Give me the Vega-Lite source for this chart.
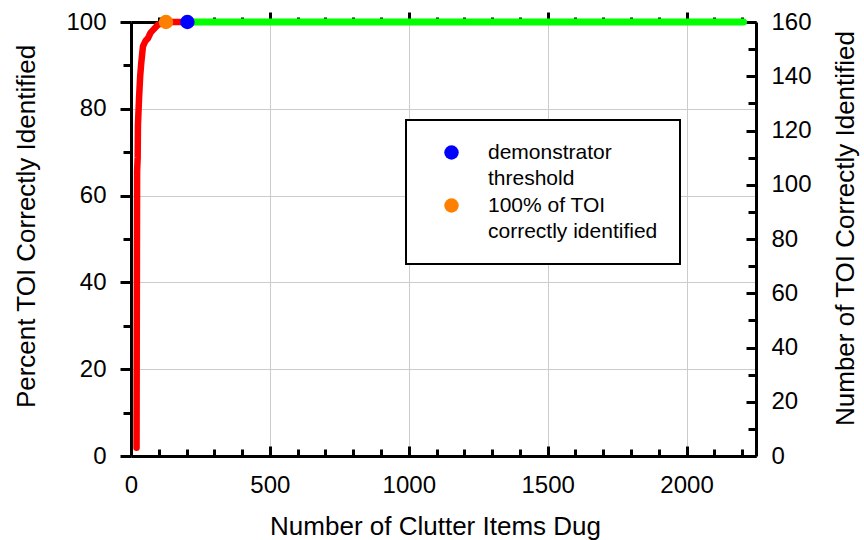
{
  "$schema": "https://vega.github.io/schema/vega-lite/v6.json",
  "autosize": {"type": "none"},
  "width": 625,
  "height": 434,
  "padding": {"left": 131, "top": 22, "right": 108, "bottom": 84},
  "background": "white",
  "datasets": {
    "dig": [
      {"clutter": 20, "toi": 3},
      {"clutter": 21, "toi": 60},
      {"clutter": 22, "toi": 105},
      {"clutter": 24, "toi": 110},
      {"clutter": 25, "toi": 122},
      {"clutter": 29, "toi": 132},
      {"clutter": 33, "toi": 140},
      {"clutter": 37, "toi": 145},
      {"clutter": 43, "toi": 151},
      {"clutter": 52, "toi": 153},
      {"clutter": 61, "toi": 154},
      {"clutter": 70, "toi": 156},
      {"clutter": 79, "toi": 157},
      {"clutter": 97, "toi": 159},
      {"clutter": 126, "toi": 160},
      {"clutter": 203, "toi": 160}
    ],
    "after": [
      {"clutter": 203, "pct": 100},
      {"clutter": 2205, "pct": 100}
    ],
    "markers": [
      {"clutter": 126, "pct": 100, "marker": "100% of TOI correctly identified"},
      {"clutter": 203, "pct": 100, "marker": "demonstrator threshold"}
    ]
  },
  "config": {
    "view": {"stroke": null},
    "font": "Liberation Sans",
    "axis": {
      "labelFont": "Liberation Sans",
      "titleFont": "Liberation Sans",
      "labelFontSize": 24,
      "titleFontSize": 26,
      "titleFontWeight": "normal",
      "labelColor": "black",
      "titleColor": "black",
      "domainColor": "black",
      "domainWidth": 3,
      "tickColor": "black",
      "tickWidth": 3,
      "gridColor": "#cccccc",
      "gridWidth": 1,
      "labelFlush": false,
      "labelOverlap": false,
      "format": "d"
    },
    "legend": {
      "labelFont": "Liberation Sans",
      "labelFontSize": 21,
      "labelColor": "black",
      "strokeWidth": 2
    },
    "style": {"guide-label": {"lineHeight": 26}}
  },
  "resolve": {
    "scale": {"y": "independent"},
    "axis": {"x": "independent", "y": "independent"}
  },
  "layer": [
    {
      "data": {"name": "after"},
      "mark": {"type": "line", "color": "#00ff00", "strokeWidth": 7, "strokeCap": "round"},
      "encoding": {
        "x": {
          "field": "clutter", "type": "quantitative",
          "scale": {"domain": [0, 2250], "nice": false, "zero": false},
          "axis": {
            "orient": "bottom", "values": [0, 500, 1000, 1500, 2000],
            "tickSize": -10, "labelPadding": 27, "grid": true,
            "title": "Number of Clutter Items Dug", "titlePadding": 16,
            "titleX": 304
          }
        },
        "y": {
          "field": "pct", "type": "quantitative",
          "scale": {"domain": [0, 100], "nice": false, "zero": false},
          "axis": {
            "orient": "left", "values": [0, 20, 40, 60, 80, 100],
            "tickSize": 11, "labelPadding": 14, "grid": true,
            "title": "Percent TOI Correctly Identified", "titlePadding": 26,
            "titleY": 204
          }
        }
      }
    },
    {
      "data": {"name": "dig"},
      "mark": {"type": "line", "color": "#ff0000", "strokeWidth": 6.5, "strokeCap": "round", "strokeJoin": "round"},
      "encoding": {
        "x": {
          "field": "clutter", "type": "quantitative",
          "scale": {"domain": [0, 2250], "nice": false, "zero": false},
          "axis": {
            "orient": "bottom",
            "values": [100, 200, 300, 400, 600, 700, 800, 900, 1100, 1200, 1300, 1400, 1600, 1700, 1800, 1900, 2100, 2200],
            "tickSize": -7, "labels": false, "domain": false, "grid": false, "title": null
          }
        },
        "y": {
          "field": "toi", "type": "quantitative",
          "scale": {"domain": [0, 160], "nice": false, "zero": false},
          "axis": {
            "orient": "right", "values": [0, 20, 40, 60, 80, 100, 120, 140, 160],
            "tickSize": -10, "labelPadding": 25, "grid": false,
            "title": "Number of TOI Correctly Identified", "titleAngle": 270,
            "titleBaseline": "top", "titlePadding": 21,
            "titleY": 206
          }
        }
      }
    },
    {
      "data": {"name": "markers"},
      "mark": {"type": "point", "filled": true, "size": 210, "opacity": 1, "shape": "circle"},
      "encoding": {
        "x": {
          "field": "clutter", "type": "quantitative",
          "scale": {"domain": [0, 2250], "nice": false, "zero": false},
          "axis": {
            "orient": "top",
            "values": [100, 200, 300, 400, 600, 700, 800, 900, 1100, 1200, 1300, 1400, 1600, 1700, 1800, 1900, 2100, 2200],
            "tickSize": 5, "labels": false, "domain": true, "grid": false, "title": null
          }
        },
        "y": {
          "field": "pct", "type": "quantitative",
          "scale": {"domain": [0, 100], "nice": false, "zero": false},
          "axis": {
            "orient": "left", "values": [10, 30, 50, 70, 90],
            "tickSize": 8, "labels": false, "domain": false, "grid": false, "title": null
          }
        },
        "color": {
          "field": "marker", "type": "nominal",
          "scale": {
            "domain": ["demonstrator threshold", "100% of TOI correctly identified"],
            "range": ["#0000ff", "#ff8000"]
          },
          "legend": {
            "title": null,
            "orient": "none",
            "legendX": 275,
            "legendY": 98,
            "strokeColor": "black",
            "fillColor": "white",
            "padding": 22,
            "symbolType": "circle",
            "symbolSize": 210,
            "symbolStrokeWidth": 0,
            "symbolOffset": 13,
            "labelOffset": 26,
            "labelLimit": 400,
            "labelBaseline": "middle",
            "rowPadding": 5,
            "labelExpr": "datum.value == 'demonstrator threshold' ? ['demonstrator', 'threshold'] : ['100% of TOI', 'correctly identified']"
          }
        }
      }
    },
    {
      "data": {"name": "dig"},
      "mark": {"type": "line", "opacity": 0},
      "encoding": {
        "x": {
          "field": "clutter", "type": "quantitative",
          "scale": {"domain": [0, 2250], "nice": false, "zero": false},
          "axis": {
            "orient": "top", "values": [500, 1000, 1500, 2000],
            "tickSize": 10, "labels": false, "domain": false, "grid": false, "title": null
          }
        },
        "y": {
          "field": "toi", "type": "quantitative",
          "scale": {"domain": [0, 160], "nice": false, "zero": false},
          "axis": {
            "orient": "right", "values": [10, 30, 50, 70, 90, 110, 130, 150],
            "tickSize": -8, "labels": false, "domain": false, "grid": false, "title": null
          }
        }
      }
    }
  ]
}
